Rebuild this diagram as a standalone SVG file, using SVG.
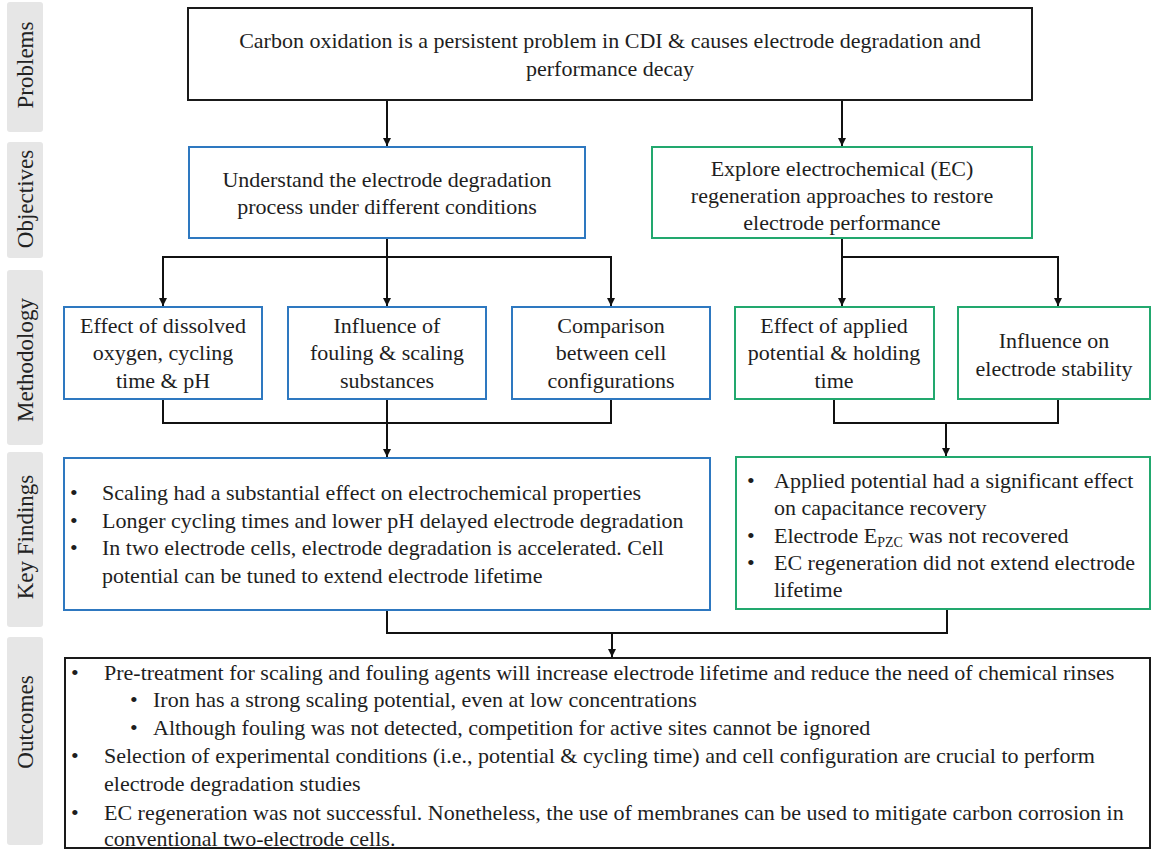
<svg xmlns="http://www.w3.org/2000/svg" width="1153" height="849" viewBox="0 0 1153 849">
<style>
text{font-family:"Liberation Serif","Times New Roman",serif;font-size:22px;fill:#1e1e1e}
.c{text-anchor:middle}
.band{fill:#e6e6e6}
.lbl{font-size:23px;fill:#222;text-anchor:middle}
.bk{fill:#fff;stroke:#1a1a1a;stroke-width:2}
.bl{fill:#fff;stroke:#2e78c0;stroke-width:2}
.gr{fill:#fff;stroke:#22a86e;stroke-width:2}
.con path{fill:none;stroke:#111;stroke-width:2}
.sub{font-size:14px}
.bu{font-size:22px}
</style>
<defs>
<marker id="ar" markerUnits="userSpaceOnUse" markerWidth="10" markerHeight="10" refX="8" refY="4" orient="auto">
<path d="M0,0 L8,4 L0,8 Z" fill="#111"/>
</marker>
</defs>
<rect width="1153" height="849" fill="#fff"/>
<g id="sidebar">
<rect class="band" x="7" y="2" width="36" height="130" rx="3"/>
<rect class="band" x="7" y="142" width="36" height="116" rx="3"/>
<rect class="band" x="7" y="270" width="36" height="175" rx="3"/>
<rect class="band" x="7" y="452" width="36" height="175" rx="3"/>
<rect class="band" x="7" y="637" width="36" height="208" rx="3"/>
<text class="lbl" transform="translate(33,65) rotate(-90)">Problems</text>
<text class="lbl" transform="translate(33,199) rotate(-90)">Objectives</text>
<text class="lbl" transform="translate(33,360) rotate(-90)">Methodology</text>
<text class="lbl" transform="translate(33,537) rotate(-90)">Key Findings</text>
<text class="lbl" transform="translate(33,722) rotate(-90)">Outcomes</text>
</g>
<g class="con" id="connectors">
<path d="M387,100 V146" marker-end="url(#ar)"/>
<path d="M842,100 V146" marker-end="url(#ar)"/>
<path d="M387,238 V306" marker-end="url(#ar)"/>
<path d="M387,257 H163 V306" marker-end="url(#ar)"/>
<path d="M387,257 H611 V306" marker-end="url(#ar)"/>
<path d="M842,238 V306" marker-end="url(#ar)"/>
<path d="M842,257 H1058 V306" marker-end="url(#ar)"/>
<path d="M163,399 V423 H611 V399"/>
<path d="M387,399 V457" marker-end="url(#ar)"/>
<path d="M834,399 V423 H1058 V399"/>
<path d="M946,423 V456" marker-end="url(#ar)"/>
<path d="M387,610 V633 H947 V609"/>
<path d="M612,633 V657" marker-end="url(#ar)"/>
</g>
<g id="problem">
<rect class="bk" x="188" y="8" width="844" height="92"/>
<text class="c" x="610" y="48">Carbon oxidation is a persistent problem in CDI &amp; causes electrode degradation and</text>
<text class="c" x="610" y="76">performance decay</text>
</g>
<g id="obj1">
<rect class="bl" x="189" y="147" width="396" height="91"/>
<text class="c" x="387" y="187">Understand the electrode degradation</text>
<text class="c" x="387" y="214">process under different conditions</text>
</g>
<g id="obj2">
<rect class="gr" x="652" y="147" width="380" height="91"/>
<text class="c" x="842" y="176">Explore electrochemical (EC)</text>
<text class="c" x="842" y="203">regeneration approaches to restore</text>
<text class="c" x="842" y="230">electrode performance</text>
</g>
<g id="m1">
<rect class="bl" x="64" y="307" width="198" height="92"/>
<text class="c" x="163" y="333">Effect of dissolved</text>
<text class="c" x="163" y="360">oxygen, cycling</text>
<text class="c" x="163" y="388">time &amp; pH</text>
</g>
<g id="m2">
<rect class="bl" x="288" y="307" width="198" height="92"/>
<text class="c" x="387" y="333">Influence of</text>
<text class="c" x="387" y="360">fouling &amp; scaling</text>
<text class="c" x="387" y="388">substances</text>
</g>
<g id="m3">
<rect class="bl" x="512" y="307" width="198" height="92"/>
<text class="c" x="611" y="333">Comparison</text>
<text class="c" x="611" y="360">between cell</text>
<text class="c" x="611" y="388">configurations</text>
</g>
<g id="m4">
<rect class="gr" x="735" y="307" width="199" height="92"/>
<text class="c" x="834" y="333">Effect of applied</text>
<text class="c" x="834" y="360">potential &amp; holding</text>
<text class="c" x="834" y="388">time</text>
</g>
<g id="m5">
<rect class="gr" x="958" y="307" width="192" height="92"/>
<text class="c" x="1054" y="348">Influence on</text>
<text class="c" x="1054" y="376">electrode stability</text>
</g>
<g id="kf1">
<rect class="bl" x="64" y="458" width="646" height="152"/>
<text class="bu" x="70" y="500">•</text><text x="102" y="500">Scaling had a substantial effect on electrochemical properties</text>
<text class="bu" x="70" y="528">•</text><text x="102" y="528">Longer cycling times and lower pH delayed electrode degradation</text>
<text class="bu" x="70" y="555">•</text><text x="102" y="555">In two electrode cells, electrode degradation is accelerated. Cell</text>
<text x="102" y="583">potential can be tuned to extend electrode lifetime</text>
</g>
<g id="kf2">
<rect class="gr" x="736" y="457" width="414" height="152"/>
<text class="bu" x="747" y="488">•</text><text x="774" y="488">Applied potential had a significant effect</text>
<text x="774" y="515">on capacitance recovery</text>
<text class="bu" x="747" y="543">•</text><text x="774" y="543">Electrode E<tspan class="sub" dy="4">PZC</tspan><tspan dy="-4"> was not recovered</tspan></text>
<text class="bu" x="747" y="570">•</text><text x="774" y="570">EC regeneration did not extend electrode</text>
<text x="774" y="597">lifetime</text>
</g>
<g id="outcomes">
<rect class="bk" x="65" y="658" width="1085" height="190"/>
<text class="bu" x="71" y="680">•</text><text x="104" y="680">Pre-treatment for scaling and fouling agents will increase electrode lifetime and reduce the need of chemical rinses</text>
<text class="bu" x="130" y="707">•</text><text x="153" y="707">Iron has a strong scaling potential, even at low concentrations</text>
<text class="bu" x="130" y="735">•</text><text x="153" y="735">Although fouling was not detected, competition for active sites cannot be ignored</text>
<text class="bu" x="71" y="763">•</text><text x="104" y="763">Selection of experimental conditions (i.e., potential &amp; cycling time) and cell configuration are crucial to perform</text>
<text x="104" y="791">electrode degradation studies</text>
<text class="bu" x="71" y="820">•</text><text x="104" y="820">EC regeneration was not successful. Nonetheless, the use of membranes can be used to mitigate carbon corrosion in</text>
<text x="104" y="846">conventional two-electrode cells.</text>
</g>
</svg>
